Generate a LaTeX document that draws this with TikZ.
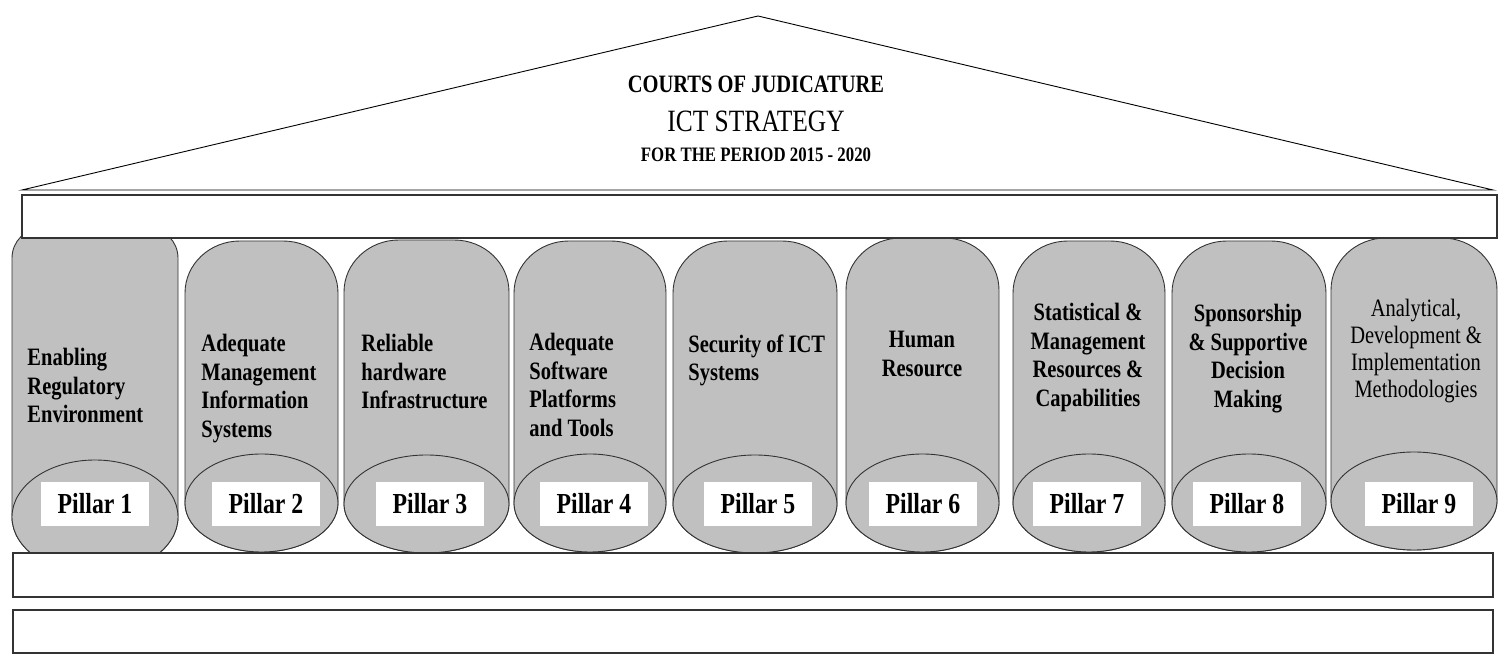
\documentclass[tikz,border=0pt]{standalone}
\usepackage{fontspec}
\setmainfont[FakeStretch=0.82]{Liberation Serif}
\usetikzlibrary{positioning}
\definecolor{pillargray}{RGB}{192,192,192}

\begin{document}
\begin{tikzpicture}[
    x=1pt, y=1pt,
    line width=0.9pt,
    column/.style={
        fill=pillargray,
        draw=black!80
    },
    slab/.style={
        draw=black!80,
        fill=white,
        line width=1.1pt
    },
    tag/.style={
        fill=white,
        minimum width=108pt,
        minimum height=44pt,
        inner sep=0pt,
        font=\fontsize{29}{32}\selectfont\bfseries
    },
    caption/.style={
        inner sep=0pt,
        font=\fontsize{25}{28.5}\selectfont\bfseries
    }
]
\useasboundingbox (0,0) rectangle (1499,658);

% Roof
\draw[fill=white] (758,642) -- (1493,468) -- (22,468) -- cycle;
\node[anchor=base, inner sep=0pt, font=\fontsize{25}{28}\selectfont\bfseries] (courts) at (756,565) {COURTS OF JUDICATURE};
\node[anchor=base, inner sep=0pt, font=\fontsize{31}{34}\selectfont] (strategy) at (756,526) {ICT STRATEGY};
\node[anchor=base, inner sep=0pt, font=\fontsize{20.5}{23}\selectfont\bfseries] (period) at (756,496) {FOR THE PERIOD 2015 - 2020};

% Pillars (shaft with rounded top, elliptic base)
\foreach \i/\l/\r/\t/\cx/\cy/\c/\ry in {1/12/178/430/30/30/141/57, 2/185/338/417/55/52/155/49,
    3/344/509/418/55/52/154/49, 4/514/666/417/55/52/155/49, 5/673/837/417/55/52/154/49,
    6/846/999/420/55/52/155/49, 7/1013/1165/417/55/52/155/49, 8/1172/1326/417/55/52/155/49,
    9/1331/1497/420/55/52/157/49} {
    \pgfmathsetmacro{\rx}{(\r-\l)/2}
    \draw[column] (\l,\c) -- (\l,\t-\cy)
        arc[start angle=180, end angle=90, x radius=\cx, y radius=\cy] -- (\r-\cx,\t)
        arc[start angle=90, end angle=0, x radius=\cx, y radius=\cy] -- (\r,\c)
        arc[start angle=0, end angle=-180, x radius=\rx, y radius=\ry] -- cycle;
    \draw[column] (\l+\rx,\c) ellipse[x radius=\rx, y radius=\ry];
}

% Pillar tags
\foreach \i/\x in {1/95, 2/266, 3/430, 4/594, 5/758, 6/923, 7/1087, 8/1247, 9/1419} {
    \node[tag] (tag\i) at (\x,154) {Pillar \i};
}

% Pillar texts
\node[caption, align=left, anchor=north west] (txt1) at (27,310) {Enabling\\Regulatory\\Environment};
\node[caption, align=left, anchor=north west] (txt2) at (201,324) {Adequate\\Management\\Information\\Systems};
\node[caption, align=left, anchor=north west] (txt3) at (361,324) {Reliable\\hardware\\Infrastructure};
\node[caption, align=left, anchor=north west] (txt4) at (529,325) {Adequate\\Software\\Platforms\\and Tools};
\node[caption, align=left, anchor=north west] (txt5) at (688,324) {Security of ICT\\Systems};
\node[caption, align=center, anchor=north] (txt6) at (922,327) {Human\\Resource};
\node[caption, align=center, anchor=north] (txt7) at (1088,355) {Statistical \&\\Management\\Resources \&\\Capabilities};
\node[caption, align=center, anchor=north] (txt8) at (1248,354) {Sponsorship\\\& Supportive\\Decision\\Making};
\node[caption, align=center, anchor=north, font=\fontsize{25}{27}\selectfont] (txt9) at (1416,359) {Analytical,\\Development \&\\Implementation\\Methodologies};

% Entablature and steps
\draw[slab] (22,420) rectangle (1497,463);
\draw[slab] (13,61) rectangle (1493,105);
\draw[slab] (13,5) rectangle (1493,48);

\end{tikzpicture}
\end{document}
